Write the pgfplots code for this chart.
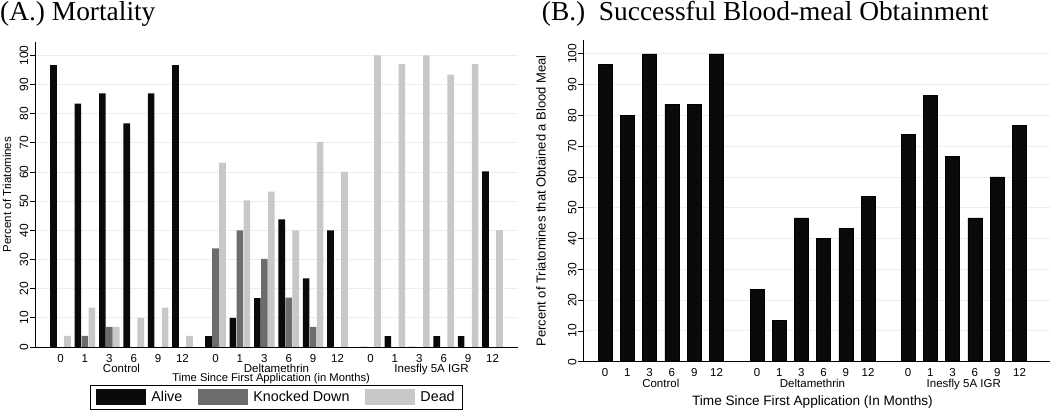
\documentclass[border=0pt]{standalone}
\usepackage{fontspec}
\setmainfont{Liberation Sans}
\newfontfamily\seriffont{Liberation Serif}
\usepackage{pgfplots}
\pgfplotsset{compat=1.18}
\definecolor{gridc}{RGB}{230,239,241}
\definecolor{barblack}{RGB}{10,10,10}
\definecolor{kdgray}{RGB}{108,108,108}
\definecolor{deadgray}{RGB}{200,200,200}
\newcommand{\fs}[1]{\fontsize{#1}{#1}\selectfont}
\pgfplotsset{
  stataaxis/.style={
    scale only axis,
    anchor=south west,
    axis x line*=bottom, axis y line*=left,
    axis line style={-, draw=black, line width=0.9pt},
    ymin=0, ytick={0,10,...,100},
    ymajorgrids, major grid style={draw=gridc, line width=0.9pt},
    tick align=outside, major tick length=5pt,
    ytick style={draw=black, line width=0.8pt},
    xtick style={draw=none},
    /pgf/number format/assume math mode=true,
    yticklabel style={rotate=90, anchor=south, inner sep=1.5pt, font=\fs{12}},
    xticklabel style={anchor=north, inner sep=0pt, font=\fs{11.5}},
    clip=false,
  },
  sbar/.style={ybar, bar shift=0pt, draw=none, fill=#1,
     legend image code/.code={\fill[#1] (0pt,-8pt) rectangle (50pt,8pt);}},
}
\begin{document}
\begin{tikzpicture}
\path[use as bounding box] (0pt,0pt) rectangle (1050pt,411pt);
\node[anchor=base west, inner sep=0pt, font=\seriffont\fs{27.4}] at (0pt,390pt) {(A.) Mortality};
\node[anchor=base west, inner sep=0pt, font=\seriffont\fs{27.4}] at (541.7pt,390pt) {(B.)\ \ Successful Blood-meal Obtainment};
% Panel A
\begin{axis}[stataaxis, at={(35pt,64pt)}, width=483pt, height=305pt,
  xmin=0, xmax=483, ymax=104.6,
  xtick={25.5,49.9,74.3,98.7,123.1,147.5,180.5,204.9,229.3,253.7,278.1,302.5,335.5,359.9,384.3,408.7,433.1,457.5},
  xticklabels={0,1,3,6,9,12,0,1,3,6,9,12,0,1,3,6,9,12},
  xticklabel style={yshift=-2pt},
  extra x ticks={86.5,241.5,396.5},
  extra x tick labels={Control,Deltamethrin,Inesfly 5A IGR},
  extra x tick style={tick label style={font=\fs{8.5}, yshift=-9.6pt}},
  bar width=6.6,
  xlabel={Time Since First Application (in Months)},
  xlabel style={at={(axis description cs:0.489,-0.104)}, anchor=center, font=\fs{11.2}},
  ylabel={Percent of Triatomines},
  ylabel style={at={(axis description cs:-0.058,0.5)}, anchor=center, font=\fs{11.5}},
  legend columns=3,
  legend style={at={(0.5,-0.164)}, anchor=center, draw=black, line width=0.8pt,
    font=\fs{14.3}, inner xsep=6pt, inner ysep=4pt,
    /tikz/every odd column/.append style={column sep=3pt},
    /tikz/every even column/.append style={column sep=14pt}},
]
\addplot[sbar=barblack] coordinates {
 (18.5,96.7) (42.9,83.5) (67.3,87) (91.7,76.7) (116.1,87) (140.5,96.7)
 (173.5,3.7) (197.9,10) (222.3,16.8) (246.7,43.8) (271.1,23.5) (295.5,40)
 (328.5,0) (352.9,3.7) (377.3,0) (401.7,3.7) (426.1,3.7) (450.5,60.2)};
\addlegendentry{Alive}
\addplot[sbar=kdgray] coordinates {
 (49.9,3.8) (74.3,6.9)
 (180.5,33.8) (204.9,40) (229.3,30.2) (253.7,16.9) (278.1,6.9)};
\addlegendentry{Knocked Down}
\addplot[sbar=deadgray] coordinates {
 (32.5,3.8) (56.9,13.5) (81.3,6.9) (105.7,10) (130.1,13.5) (154.5,3.8)
 (187.5,63.2) (211.9,50.3) (236.3,53.3) (260.7,40) (285.1,70.3) (309.5,60.1)
 (342.5,100) (366.9,97) (391.3,100) (415.7,93.4) (440.1,97) (464.5,40.1)};
\addlegendentry{Dead}
\end{axis}
% Panel B
\begin{axis}[stataaxis, at={(583.3pt,49.3pt)}, width=466.7pt, height=321.7pt,
  xmin=0, xmax=466.7, ymax=104.5,
  xtick={21.7,44.0,66.3,88.6,110.9,133.2,173.7,195.9,218.1,240.3,262.5,284.7,324.7,347.0,369.3,391.6,413.9,436.2},
  xticklabels={0,1,3,6,9,12,0,1,3,6,9,12,0,1,3,6,9,12},
  xticklabel style={yshift=-1.6pt},
  extra x ticks={77.5,229.2,380.5},
  extra x tick labels={Control,Deltamethrin,Inesfly 5A IGR},
  extra x tick style={tick label style={font=\fs{11}, yshift=-11pt}},
  bar width=14,
  xlabel={Time Since First Application (In Months)},
  xlabel style={at={(axis description cs:0.491,-0.124)}, anchor=center, font=\fs{13.6}},
  ylabel={Percent of Triatomines that Obtained a Blood Meal},
  ylabel style={at={(axis description cs:-0.0906,0.5)}, anchor=center, font=\fs{13}},
]
\addplot[ybar, bar shift=0pt, fill=barblack, draw=black, line width=0.4pt] coordinates {
 (21.7,96.5) (44.0,80) (66.3,100) (88.6,83.6) (110.9,83.6) (133.2,100)
 (173.7,23.5) (195.9,13.5) (218.1,46.7) (240.3,40) (262.5,43.4) (284.7,53.6)
 (324.7,73.8) (347.0,86.6) (369.3,66.7) (391.6,46.7) (413.9,60) (436.2,76.7)};
\end{axis}
\end{tikzpicture}
\end{document}
